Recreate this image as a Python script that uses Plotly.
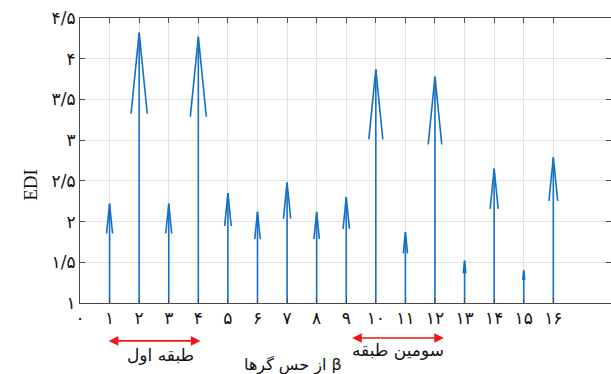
import plotly.graph_objects as go

# Sensor index and EDI value at each arrow tip
sensors = list(range(1, 17))
edi = [2.22, 4.32, 2.22, 4.27, 2.35, 2.12, 2.48, 2.12, 2.30, 3.87, 1.87, 3.78, 1.52, 2.65, 1.40, 2.79]
base = 1.0

fa_digits = "۰۱۲۳۴۵۶۷۸۹"


def fa(s):
    return "".join(fa_digits[int(c)] if c.isdigit() else c for c in s)


x_tickvals = list(range(0, 17))
x_ticktext = [fa(str(v)) for v in x_tickvals]
y_tickvals = [1, 1.5, 2, 2.5, 3, 3.5, 4, 4.5]
y_ticktext = [fa(("%g" % v).replace(".", "/")) for v in y_tickvals]

# Quiver-style arrows: shaft plus two barbs, head scaled with arrow length
X_RANGE = [0, 17.95]
Y_RANGE = [1, 4.5]
PLOT_W, PLOT_H = 531, 285
px_x = PLOT_W / (X_RANGE[1] - X_RANGE[0])
px_y = PLOT_H / (Y_RANGE[1] - Y_RANGE[0])

xs, ys = [], []
for s, v in zip(sensors, edi):
    length = v - base
    head_len = 0.3 * length
    head_hw = 0.03 * length * px_y / px_x
    xs += [s, s, None, s - head_hw, s, s + head_hw, None]
    ys += [base, v, None, v - head_len, v, v - head_len, None]

fig = go.Figure()
fig.add_trace(go.Scatter(
    x=xs, y=ys, mode="lines",
    line=dict(color="#1370c4", width=1.6),
    hoverinfo="skip", showlegend=False,
))

axis_common = dict(
    showline=True, linecolor="#4a4a4a", linewidth=1,
    mirror="ticks", ticks="inside", ticklen=5, tickcolor="#4a4a4a",
    showgrid=True, gridcolor="#e2e2e2", gridwidth=1,
    zeroline=False,
    tickfont=dict(family="DejaVu Sans", size=17, color="#111111"),
)

fig.update_layout(
    width=611, height=374,
    margin=dict(l=80, r=0, t=18, b=71),
    plot_bgcolor="white", paper_bgcolor="white",
    xaxis=dict(range=X_RANGE, tickmode="array", tickvals=x_tickvals,
               ticktext=x_ticktext, **axis_common),
    yaxis=dict(range=Y_RANGE, tickmode="array", tickvals=y_tickvals,
               ticktext=y_ticktext, **axis_common),
)

# Y-axis title
fig.add_annotation(
    text="EDI", xref="paper", yref="paper", x=-0.118, y=0.414,
    showarrow=False, textangle=-90,
    font=dict(family="Liberation Serif", size=19, color="#111111"),
)

# Red double-headed spans marking the floors
spans = [
    (0.92, 4.07, -0.133, "طبقه اول", 2.72, -0.225),
    (9.15, 12.3, -0.123, "سومین طبقه", 10.75, -0.208),
]
for x0, x1, yp, label, lx, ly in spans:
    fig.add_annotation(
        x=x1, y=yp, xref="x", yref="paper",
        ax=-(x1 - x0) * px_x, ay=0, axref="pixel", ayref="pixel",
        text="", showarrow=True, arrowside="end+start",
        arrowhead=2, arrowsize=1.2, arrowwidth=1.6, arrowcolor="#f01414",
        standoff=0, startstandoff=0,
    )
    fig.add_annotation(
        x=lx, y=ly, xref="x", yref="paper", text=label, showarrow=False,
        font=dict(family="DejaVu Sans", size=17, color="#111111"),
    )

# X-axis title (sensor index) at the bottom edge
fig.add_annotation(
    x=7.2, y=-0.175, xref="x", yref="paper", yanchor="top",
    text="از حس گرها β", showarrow=False,
    font=dict(family="DejaVu Sans", size=16, color="#111111"),
)

fig.write_html("out.html")
